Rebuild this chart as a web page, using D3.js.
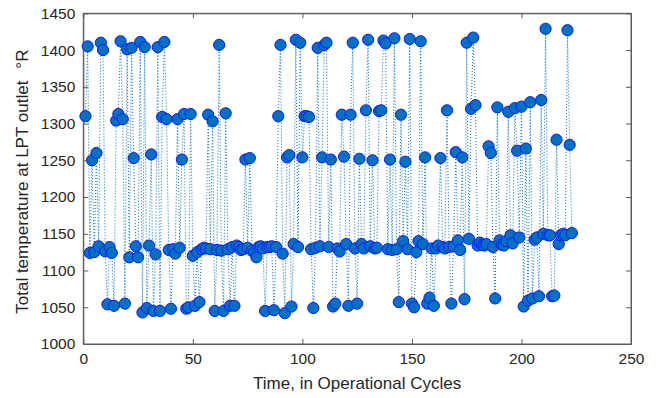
<!DOCTYPE html>
<html>
<head>
<meta charset="utf-8">
<script src="https://cdn.jsdelivr.net/npm/d3@7"></script>
<style>
  html, body { margin: 0; padding: 0; background: #fff; }
  svg { display: block; }
  text { font-family: "Liberation Sans", Arial, Helvetica, sans-serif; fill: #262626; }
</style>
</head>
<body>
<svg id="chart" width="656" height="398"></svg>
<script>
// Temperature values, one per operational cycle (cycles 1..223)
const temperature = [
  1310, 1405, 1124, 1250, 1125, 1260, 1133, 1410, 1400, 1126,
  1054, 1132, 1124, 1052, 1304, 1313, 1412, 1306, 1055, 1401,
  1118, 1403, 1253, 1133, 1118, 1411, 1043, 1404, 1049, 1134,
  1258, 1045, 1122, 1404, 1045, 1309, 1411, 1306, 1128, 1048,
  1129, 1123, 1306, 1131, 1251, 1313, 1048, 1050, 1313, 1120,
  1052, 1125, 1057, 1129, 1131, 1130, 1312, 1129, 1303, 1045,
  1128, 1407, 1127, 1045, 1314, 1129, 1052, 1132, 1052, 1134,
  1132, 1128, 1129, 1251, 1131, 1253, 1127, 1125, 1118, 1132,
  1133, 1130, 1045, 1132, 1132, 1133, 1046, 1132, 1310, 1407,
  1123, 1042, 1254, 1257, 1051, 1136, 1414, 1132, 1410, 1254,
  1310, 1310, 1309, 1129, 1049, 1131, 1403, 1133, 1254, 1407,
  1410, 1132, 1251, 1051, 1055, 1130, 1126, 1312, 1255, 1136,
  1052, 1312, 1410, 1130, 1055, 1252, 1136, 1130, 1318, 1414,
  1133, 1250, 1130, 1131, 1317, 1318, 1413, 1409, 1129, 1251,
  1128, 1416, 1129, 1057, 1312, 1140, 1248, 1129, 1415, 1055,
  1050, 1125, 1140, 1412, 1136, 1254, 1055, 1063, 1130, 1052,
  1130, 1134, 1253, 1132, 1130, 1318, 1132, 1055, 1133, 1261,
  1141, 1128, 1254, 1061, 1410, 1143, 1320, 1417, 1325, 1134,
  1138, 1135, 1134, 1136, 1269, 1260, 1132, 1062, 1322, 1141,
  1135, 1134, 1140, 1316, 1148, 1137, 1321, 1263, 1145, 1323,
  1051, 1266, 1059, 1329, 1062, 1142, 1145, 1065, 1332, 1150,
  1429, 1148, 1148, 1065, 1066, 1278, 1136, 1148, 1150, 1148,
  1427, 1271, 1151
];
const cycles = temperature.map((_, i) => i + 1);

const xTicks = [0, 50, 100, 150, 200, 250];
const yTicks = [1000, 1050, 1100, 1150, 1200, 1250, 1300, 1350, 1400, 1450];

const xLabel = "Time, in Operational Cycles";
const yLabel = "Total temperature at LPT outlet";
const yUnit = "°R";

const svg = d3.select("#chart");
const L = 83.3, R = 631, T = 13.3, B = 344;

const x = d3.scaleLinear().domain([0, 250]).range([L, R]);
const y = d3.scaleLinear().domain([1000, 1450]).range([B, T]);

const axisColor = "#5a5a5a";
const tickLen = 5;

// Box
svg.append("rect")
  .attr("x", L).attr("y", T)
  .attr("width", R - L).attr("height", B - T)
  .attr("fill", "none").attr("stroke", axisColor).attr("stroke-width", 1);

// Bottom axis
const gx = svg.append("g").attr("transform", `translate(0,${B})`)
  .call(d3.axisBottom(x).tickValues(xTicks).tickFormat(d3.format("d"))
    .tickSizeInner(-tickLen).tickSizeOuter(0).tickPadding(9));
// Top ticks
svg.append("g").attr("transform", `translate(0,${T})`)
  .call(d3.axisTop(x).tickValues(xTicks).tickFormat("")
    .tickSizeInner(-tickLen).tickSizeOuter(0));
// Left axis
const gy = svg.append("g").attr("transform", `translate(${L},0)`)
  .call(d3.axisLeft(y).tickValues(yTicks).tickFormat(d3.format("d"))
    .tickSizeInner(-tickLen).tickSizeOuter(0).tickPadding(8));
// Right ticks
svg.append("g").attr("transform", `translate(${R},0)`)
  .call(d3.axisRight(y).tickValues(yTicks).tickFormat("")
    .tickSizeInner(-tickLen).tickSizeOuter(0));

svg.selectAll(".domain").attr("stroke", axisColor);
svg.selectAll(".tick line").attr("stroke", axisColor);
svg.selectAll(".tick text")
  .style("font-family", "'Liberation Sans', Arial, sans-serif")
  .style("font-size", "15.5px").attr("fill", "#262626");

// Axis labels
svg.append("text")
  .attr("x", (L + R) / 2).attr("y", 389)
  .attr("text-anchor", "middle")
  .style("font-size", "17px")
  .text(xLabel);

const yl = svg.append("text")
  .attr("transform", `translate(28,${(T + B) / 2 + 3}) rotate(-90)`)
  .attr("text-anchor", "middle")
  .style("font-size", "17px");
yl.append("tspan").text(yLabel);
yl.append("tspan").attr("dx", 12).text(yUnit);

// Data line (dotted)
const data = cycles.map((c, i) => ({ c, v: temperature[i] }));
const plot = svg.append("g");
plot.append("path")
  .datum(data)
  .attr("fill", "none")
  .attr("stroke", "#0072BD")
  .attr("stroke-width", 1)
  .attr("stroke-dasharray", "1,2")
  .attr("d", d3.line().x(d => x(d.c)).y(d => y(d.v)));

// Markers
plot.selectAll("circle")
  .data(data)
  .join("circle")
  .attr("cx", d => x(d.c))
  .attr("cy", d => y(d.v))
  .attr("r", 5.6)
  .attr("fill", "#0070C0")
  .attr("stroke", "#0a1aff")
  .attr("stroke-width", 1);
</script>
</body>
</html>
